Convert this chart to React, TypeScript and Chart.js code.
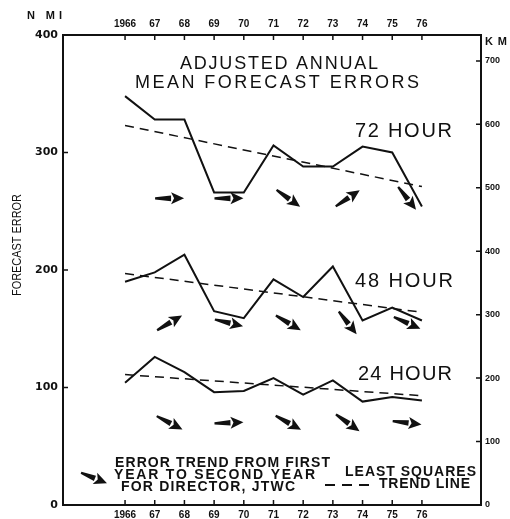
import React, { useEffect, useRef } from 'react';
import { Chart, registerables } from 'chart.js';

Chart.register(...registerables);

// Adjusted annual mean forecast errors (nautical miles), 1966-1976
const years = [1966, 1967, 1968, 1969, 1970, 1971, 1972, 1973, 1974, 1975, 1976];
const err72 = [348, 328, 328, 266, 266, 306, 288, 288, 305, 300, 254];
const err48 = [190, 198, 213, 165, 159, 192, 177, 203, 157, 168, 157];
const err24 = [104, 126, 113, 96, 97, 108, 94, 106, 88, 92, 89];

// Least-squares trend lines (value at first and last year)
const trendYears = [1966, 1976];
const trend72 = [323, 271];
const trend48 = [197, 164];
const trend24 = [111, 93];

// First year of each director's two-year tour (arrow shows change to the second year)
const directorYears = [1967, 1969, 1971, 1973, 1975];

const seriesLabels = ['72 HOUR', '48 HOUR', '24 HOUR'];
const nmTicks = [0, 100, 200, 300, 400];
const kmTicks = [0, 100, 200, 300, 400, 500, 600, 700];
const KM_PER_NM = 1.852;

const INK = '#111';
const SERIES = [err72, err48, err24];
const ARROW_ROW_NM = [261, 155, 70];

function fitText(
  ctx: CanvasRenderingContext2D,
  text: string,
  x: number,
  y: number,
  width: number,
  font: string,
  align: 'left' | 'center' = 'left'
) {
  ctx.save();
  ctx.font = font;
  ctx.fillStyle = INK;
  ctx.textBaseline = 'middle';
  ctx.textAlign = 'left';
  const nat = ctx.measureText(text).width;
  let ls = 0;
  let sx = 1;
  if (width > nat) ls = (width - nat) / Math.max(1, text.length - 1);
  else sx = width / nat;
  const left = align === 'center' ? x - width / 2 : x;
  ctx.translate(left, y);
  ctx.scale(sx, 1);
  (ctx as any).letterSpacing = ls + 'px';
  ctx.fillText(text, 0, 0);
  ctx.restore();
}

function drawArrow(ctx: CanvasRenderingContext2D, cx: number, cy: number, ang: number, len: number) {
  const dx = Math.cos(ang);
  const dy = Math.sin(ang);
  const px = -dy;
  const py = dx;
  const tx = cx - (dx * len) / 2;
  const ty = cy - (dy * len) / 2;
  const hx = cx + (dx * len) / 2;
  const hy = cy + (dy * len) / 2;
  const headLen = 13;
  const headHalf = 6;
  const bx = hx - dx * headLen;
  const by = hy - dy * headLen;
  ctx.save();
  ctx.fillStyle = INK;
  // tapered shaft
  ctx.beginPath();
  ctx.moveTo(tx + px * 1.1, ty + py * 1.1);
  ctx.lineTo(bx + px * 2.8, by + py * 2.8);
  ctx.lineTo(bx - px * 2.8, by - py * 2.8);
  ctx.lineTo(tx - px * 1.1, ty - py * 1.1);
  ctx.closePath();
  ctx.fill();
  // head
  ctx.beginPath();
  ctx.moveTo(hx, hy);
  ctx.lineTo(bx + px * headHalf, by + py * headHalf);
  ctx.lineTo(bx + dx * 3, by + dy * 3);
  ctx.lineTo(bx - px * headHalf, by - py * headHalf);
  ctx.closePath();
  ctx.fill();
  ctx.restore();
}

const yearLabel = (v: number) => (v === 1966 ? '1966' : String(v).slice(2));

const inwardTicks = {
  id: 'inwardTicks',
  afterDraw(chart: any) {
    const { ctx, chartArea: a, scales } = chart;
    const L = 5;
    ctx.save();
    ctx.strokeStyle = INK;
    ctx.lineWidth = 1.5;
    ctx.beginPath();
    for (const t of scales.x.ticks) {
      const p = scales.x.getPixelForValue(t.value);
      ctx.moveTo(p, a.bottom);
      ctx.lineTo(p, a.bottom - L);
    }
    for (const t of scales.x2.ticks) {
      const p = scales.x2.getPixelForValue(t.value);
      ctx.moveTo(p, a.top);
      ctx.lineTo(p, a.top + L);
    }
    for (const t of scales.y.ticks) {
      const p = scales.y.getPixelForValue(t.value);
      ctx.moveTo(a.left, p);
      ctx.lineTo(a.left + L, p);
    }
    for (const t of scales.y2.ticks) {
      const p = scales.y2.getPixelForValue(t.value);
      ctx.moveTo(a.right, p);
      ctx.lineTo(a.right - L, p);
    }
    ctx.stroke();
    ctx.restore();
  },
};

const directorArrows = {
  id: 'directorArrows',
  afterDatasetsDraw(chart: any) {
    const { ctx, scales } = chart;
    const x = scales.x;
    const y = scales.y;
    const maxAng = (52 * Math.PI) / 180;
    SERIES.forEach((vals, si) => {
      directorYears.forEach((yr) => {
        const i = years.indexOf(yr);
        const x0 = x.getPixelForValue(yr);
        const x1 = x.getPixelForValue(yr + 1);
        const y0 = y.getPixelForValue(vals[i]);
        const y1 = y.getPixelForValue(vals[i + 1]);
        let ang = Math.atan2(y1 - y0, x1 - x0);
        ang = Math.max(-maxAng, Math.min(maxAng, ang));
        const cx = x.getPixelForValue(yr + 0.5);
        const cy = y.getPixelForValue(ARROW_ROW_NM[si]);
        drawArrow(ctx, cx, cy, ang, 29);
      });
    });
  },
};

const annotations = {
  id: 'annotations',
  afterDraw(chart: any) {
    const ctx: CanvasRenderingContext2D = chart.ctx;
    const title = '18px "Liberation Sans", Arial, sans-serif';
    fitText(ctx, 'ADJUSTED ANNUAL', 279, 64, 198, title, 'center');
    fitText(ctx, 'MEAN FORECAST ERRORS', 277, 83, 284, title, 'center');

    const lbl = '20px "Liberation Sans", Arial, sans-serif';
    fitText(ctx, seriesLabels[0], 355, 131, 97, lbl);
    fitText(ctx, seriesLabels[1], 355, 281, 98, lbl);
    fitText(ctx, seriesLabels[2], 358, 374, 94, lbl);

    const leg = 'bold 14px "Liberation Sans", Arial, sans-serif';
    fitText(ctx, 'ERROR TREND FROM FIRST', 115, 463, 215, leg);
    fitText(ctx, 'YEAR TO SECOND YEAR', 114, 475, 201, leg);
    fitText(ctx, 'FOR DIRECTOR, JTWC', 121, 487, 174, leg);
    fitText(ctx, 'LEAST SQUARES', 345, 472, 131, leg);
    fitText(ctx, 'TREND LINE', 379, 484, 91, leg);
    drawArrow(ctx, 94, 478, (22 * Math.PI) / 180, 28);

    ctx.save();
    ctx.strokeStyle = INK;
    ctx.lineWidth = 2;
    ctx.setLineDash([10, 7]);
    ctx.beginPath();
    ctx.moveTo(325, 485);
    ctx.lineTo(373, 485);
    ctx.stroke();
    ctx.restore();

    const axisFont = 'bold 11px "Liberation Sans", Arial, sans-serif';
    fitText(ctx, 'N MI', 27, 16, 35, axisFont);
    fitText(ctx, 'KM', 485, 42, 22, axisFont);

    ctx.save();
    ctx.translate(18, 245);
    ctx.rotate(-Math.PI / 2);
    fitText(ctx, 'FORECAST ERROR', 0, 0, 102, '12px "Liberation Sans", Arial, sans-serif', 'center');
    ctx.restore();
  },
};

export default function App() {
  const ref = useRef<HTMLCanvasElement | null>(null);

  useEffect(() => {
    if (!ref.current) return;
    const solid = (vals: number[]) => ({
      data: years.map((x, i) => ({ x, y: vals[i] })),
      borderColor: INK,
      borderWidth: 2,
      pointRadius: 0,
      tension: 0,
      fill: false,
      xAxisID: 'x',
      yAxisID: 'y',
    });
    const dashed = (vals: number[]) => ({
      data: trendYears.map((x, i) => ({ x, y: vals[i] })),
      borderColor: INK,
      borderWidth: 1.5,
      borderDash: [9, 6],
      pointRadius: 0,
      fill: false,
      xAxisID: 'x',
      yAxisID: 'y',
    });

    const xMin = 1963.91;
    const xMax = 1977.99;
    const border = { display: true, color: INK, width: 2 };
    const noGrid = { display: false, drawTicks: false };
    const yearFont = { family: '"Liberation Sans", Arial, sans-serif', size: 10, weight: 'bold' };

    const chart = new Chart(ref.current, {
      type: 'line',
      data: {
        datasets: [
          solid(err72),
          solid(err48),
          solid(err24),
          dashed(trend72),
          dashed(trend48),
          dashed(trend24),
        ] as any,
      },
      options: {
        responsive: false,
        animation: false,
        devicePixelRatio: 1,
        layout: { padding: 0, autoPadding: false } as any,
        plugins: {
          legend: { display: false },
          tooltip: { enabled: false },
          title: { display: false },
        },
        scales: {
          x: {
            type: 'linear',
            position: 'bottom',
            min: xMin,
            max: xMax,
            grid: noGrid,
            border,
            afterBuildTicks: (s: any) => {
              s.ticks = years.map((v) => ({ value: v }));
            },
            afterFit: (s: any) => {
              s.height = 14;
            },
            ticks: {
              autoSkip: false,
              maxRotation: 0,
              padding: 4,
              color: INK,
              font: yearFont,
              callback: (v: any) => yearLabel(Number(v)),
            },
          },
          x2: {
            type: 'linear',
            position: 'top',
            min: xMin,
            max: xMax,
            grid: noGrid,
            border,
            afterBuildTicks: (s: any) => {
              s.ticks = years.map((v) => ({ value: v }));
            },
            afterFit: (s: any) => {
              s.height = 35;
            },
            ticks: {
              autoSkip: false,
              maxRotation: 0,
              padding: 5,
              color: INK,
              font: yearFont,
              callback: (v: any) => yearLabel(Number(v)),
            },
          },
          y: {
            type: 'linear',
            position: 'left',
            min: 0,
            max: 400,
            grid: noGrid,
            border,
            afterBuildTicks: (s: any) => {
              s.ticks = nmTicks.map((v) => ({ value: v }));
            },
            afterFit: (s: any) => {
              s.width = 63;
            },
            ticks: {
              padding: 5,
              color: INK,
              font: { family: '"DejaVu Sans", sans-serif', size: 11, weight: 'bold' },
              callback: (v: any) => String(v),
            },
          },
          y2: {
            type: 'linear',
            position: 'right',
            min: 0,
            max: 400 * KM_PER_NM,
            grid: noGrid,
            border,
            afterBuildTicks: (s: any) => {
              s.ticks = kmTicks.map((v) => ({ value: v }));
            },
            afterFit: (s: any) => {
              s.width = 29;
            },
            ticks: {
              padding: 4,
              color: INK,
              font: { family: '"Liberation Sans", Arial, sans-serif', size: 9, weight: 'bold' },
              callback: (v: any) => String(v),
            },
          },
        },
      } as any,
      plugins: [inwardTicks, directorArrows, annotations],
    });

    return () => chart.destroy();
  }, []);

  return (
    <div style={{ position: 'fixed', left: 0, top: 0, width: 510, height: 519, background: '#fff' }}>
      <canvas ref={ref} width={510} height={519} />
    </div>
  );
}
